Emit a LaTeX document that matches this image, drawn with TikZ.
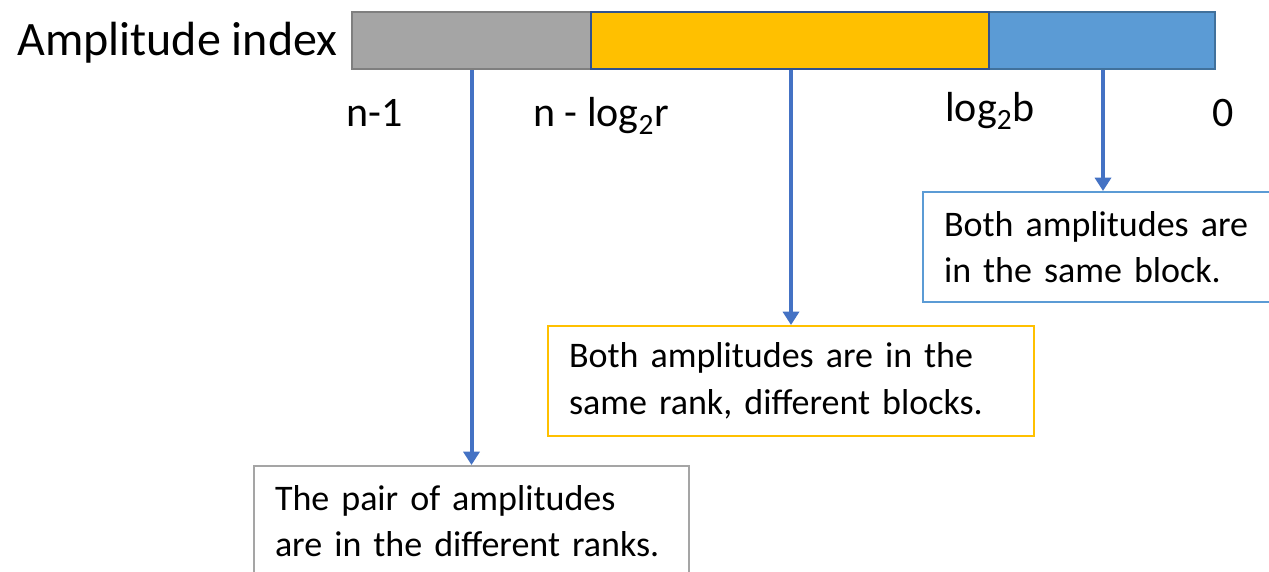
\documentclass[tikz,border=0pt]{standalone}
\usepackage{fontspec}
\setmainfont{Carlito}
\usetikzlibrary{arrows.meta}
\definecolor{arrowblue}{HTML}{4472C4}
\definecolor{segblue}{HTML}{5B9BD5}
\definecolor{segblueline}{HTML}{41719C}
\definecolor{segyellow}{HTML}{FFC000}
\definecolor{segyellowline}{HTML}{2F528F}
\definecolor{seggray}{HTML}{A5A5A5}
\definecolor{seggrayline}{HTML}{7F7F7F}
\tikzstyle{segment}=[rectangle, line width=1.5pt, minimum height=42.75pt, inner sep=0pt, anchor=north west]
\tikzstyle{bitlabel}=[inner sep=0pt, anchor=base west, font=\fontsize{31.5}{38}\selectfont]
\tikzstyle{note}=[rectangle, draw, fill=white, line width=1.5pt, minimum height=82.5pt, inner xsep=15.75pt, inner ysep=0pt, anchor=north west, align=left, font=\fontsize{27}{35}\selectfont]
\tikzstyle{flow}=[arrowblue, line width=3pt, -{Triangle[width=12pt,length=10pt]}]

\begin{document}
\begin{tikzpicture}[x=0.75pt, y=-0.75pt]
				\useasboundingbox (0,0) rectangle (1269,571);
				\clip (0,0) rectangle (1269,571);
				\node[inner sep=0pt, anchor=base west, font=\fontsize{36}{43}\selectfont] (title) at (17,55) {Amplitude index};
				% the index bar
				\node[segment, fill=seggray, draw=seggrayline, minimum width=179.25pt] (rankbits) at (351,11) {};
				\node[segment, fill=segblue, draw=segblueline, minimum width=169.5pt] (blockbits) at (988,11) {};
				\node[segment, fill=segyellow, draw=segyellowline, minimum width=298.5pt] (localbits) at (590,11) {};
				\node[bitlabel] (top) at (346,126.7) {n-1};
				\node[bitlabel] (mid) at (533,126.7) {n - log\textsubscript{2}r};
				\node[bitlabel] (low) at (945,121.7) {log\textsubscript{2}b};
				\node[bitlabel] (zero) at (1212,126.7) {0};
				% the three cases
				\node[note, draw=segblue, text width=238.5pt] (sameblock) at (922,191) {Both amplitudes are\\in the same block.};
				\node[note, draw=segyellow, text width=333pt] (samerank) at (547,325) {Both amplitudes are in the\\same rank, different blocks.};
				\node[note, draw=seggray, text width=294.75pt] (diffrank) at (253,465) {The pair of amplitudes\\are in the different ranks.};
				\draw[flow] (rankbits.south -| diffrank.north) -- (diffrank.north);
				\draw[flow] (localbits.south -| samerank.north) -- (samerank.north);
				\draw[flow] (blockbits.south -| sameblock.north) -- (sameblock.north);
			\end{tikzpicture}
\end{document}
